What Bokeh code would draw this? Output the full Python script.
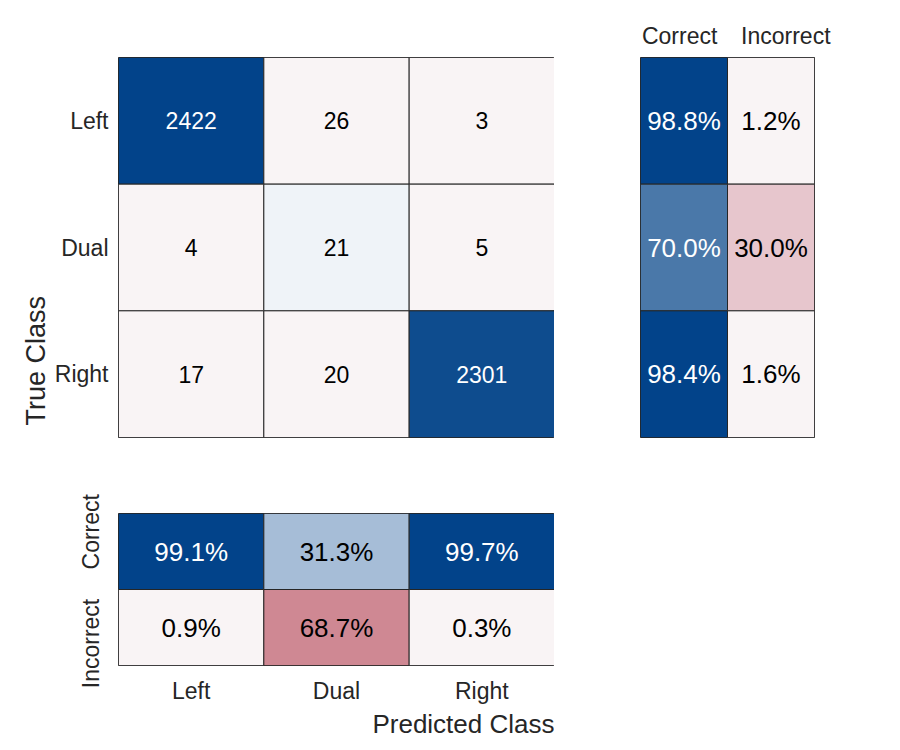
import math
from bokeh.plotting import figure
from bokeh.layouts import column, row
from bokeh.models import ColumnDataSource, FactorRange, Range1d, FixedTicker, Title
from bokeh.core.properties import value
from bokeh.embed import file_html
from bokeh.resources import INLINE

# ---------------- data ----------------
classes = ["Left", "Dual", "Right"]
counts = [[2422, 26, 3],
          [4, 21, 5],
          [17, 20, 2301]]
summary_labels = ["Correct", "Incorrect"]
row_correct = [98.8, 70.0, 98.4]
row_incorrect = [1.2, 30.0, 1.6]
col_correct = [99.1, 31.3, 99.7]
col_incorrect = [0.9, 68.7, 0.3]

# ---------------- styles ----------------
FONT = "Liberation Sans"
EDGE = "#262626"
TXT = "#262626"
LIGHT = "#F9F4F5"
main_fill = [["#02438A", LIGHT, LIGHT],
             [LIGHT, "#EFF3F8", LIGHT],
             [LIGHT, LIGHT, "#0E4C8E"]]
main_txt = [["white", "black", "black"],
            ["black", "black", "black"],
            ["black", "black", "white"]]
row_fill_c = ["#02438A", "#4A78A9", "#02438A"]
row_fill_i = [LIGHT, "#E7C6CD", LIGHT]
row_txt_c = ["white", "white", "white"]
row_txt_i = ["black", "black", "black"]
col_fill_c = ["#02438A", "#A6BDD7", "#02438A"]
col_fill_i = [LIGHT, "#CF8893", LIGHT]
col_txt_c = ["white", "black", "white"]
col_txt_i = ["black", "black", "black"]
# label anchor positions for the summary strips (fractions of the strip)
row_tick_pos = [0.45, 1.67]     # "Correct", "Incorrect" above the row summary
col_tick_pos = [1.76, 0.29]     # "Correct", "Incorrect" left of the column summary


def style_fig(p):
    p.grid.visible = False
    p.outline_line_color = EDGE
    p.outline_line_width = 1
    p.background_fill_color = "white"
    p.border_fill_color = "white"
    for ax in p.axis:
        ax.axis_line_color = None
        ax.major_tick_line_color = None
        ax.minor_tick_line_color = None
        ax.major_tick_out = 0
        ax.major_tick_in = 0
        ax.minor_tick_out = 0
        ax.minor_tick_in = 0
        ax.major_label_text_font = FONT
        ax.major_label_text_font_size = "23px"
        ax.major_label_text_color = TXT


def pct(v):
    return f"{v:.1f}%"


# ---------------- main matrix ----------------
mx, my, mv, mf, mt = [], [], [], [], []
for i, tc in enumerate(classes):
    for j, pc in enumerate(classes):
        mx.append(pc)
        my.append(tc)
        mv.append(str(counts[i][j]))
        mf.append(main_fill[i][j])
        mt.append(main_txt[i][j])
msrc = ColumnDataSource(dict(x=mx, y=my, v=mv, f=mf, t=mt))

pm = figure(x_range=FactorRange(*classes), y_range=FactorRange(*classes[::-1]),
            frame_width=436, frame_height=380, output_backend="svg",
            toolbar_location=None, min_border=0)
pm.min_border_left = 118
pm.min_border_top = 57
pm.min_border_bottom = 20
pm.min_border_right = 0
pm.rect("x", "y", width=1, height=1, source=msrc, fill_color="f",
        line_color=EDGE, line_width=1)
pm.text("x", "y", text="v", source=msrc, text_color="t",
        text_align="center", text_baseline="middle",
        text_font=value(FONT), text_font_size="23px")
pm.xaxis.visible = False
style_fig(pm)
pm.yaxis.major_label_standoff = 10
pm.add_layout(Title(text="True Class", align="left", offset=12, standoff=1,
                    text_font=FONT, text_font_size="27px",
                    text_font_style="normal", text_color=TXT), "left")

# ---------------- row summary ----------------
rx, ry, rv, rf, rt = [], [], [], [], []
for i, tc in enumerate(classes):
    rx += [0.5, 1.5]
    ry += [tc, tc]
    rv += [pct(row_correct[i]), pct(row_incorrect[i])]
    rf += [row_fill_c[i], row_fill_i[i]]
    rt += [row_txt_c[i], row_txt_i[i]]
rsrc = ColumnDataSource(dict(x=rx, y=ry, v=rv, f=rf, t=rt))

pr = figure(x_range=Range1d(0, len(summary_labels)), y_range=FactorRange(*classes[::-1]),
            frame_width=174, frame_height=380, output_backend="svg",
            toolbar_location=None, min_border=0, x_axis_location="above")
pr.min_border_left = 86
pr.min_border_top = 57
pr.min_border_bottom = 20
pr.min_border_right = 20
pr.rect("x", "y", width=1, height=1, source=rsrc, fill_color="f",
        line_color=EDGE, line_width=1)
pr.text("x", "y", text="v", source=rsrc, text_color="t",
        text_align="center", text_baseline="middle",
        text_font=value(FONT), text_font_size="26px")
pr.yaxis.visible = False
style_fig(pr)
pr.xaxis.ticker = FixedTicker(ticks=row_tick_pos)
pr.xaxis.major_label_overrides = {p: s for p, s in zip(row_tick_pos, summary_labels)}
pr.xaxis.major_label_standoff = 9

# ---------------- column summary ----------------
cx, cy, cv, cf, ct = [], [], [], [], []
for j, pc in enumerate(classes):
    cx += [pc, pc]
    cy += [1.5, 0.5]
    cv += [pct(col_correct[j]), pct(col_incorrect[j])]
    cf += [col_fill_c[j], col_fill_i[j]]
    ct += [col_txt_c[j], col_txt_i[j]]
csrc = ColumnDataSource(dict(x=cx, y=cy, v=cv, f=cf, t=ct))

pc_ = figure(x_range=FactorRange(*classes), y_range=Range1d(0, len(summary_labels)),
             frame_width=436, frame_height=152, output_backend="svg",
             toolbar_location=None, min_border=0)
pc_.min_border_left = 118
pc_.min_border_top = 56
pc_.min_border_bottom = 75
pc_.min_border_right = 0
pc_.rect("x", "y", width=1, height=1, source=csrc, fill_color="f",
         line_color=EDGE, line_width=1)
pc_.text("x", "y", text="v", source=csrc, text_color="t",
         text_align="center", text_baseline="middle",
         text_font=value(FONT), text_font_size="26px")
style_fig(pc_)
pc_.yaxis.ticker = FixedTicker(ticks=col_tick_pos)
pc_.yaxis.major_label_overrides = {p: s for p, s in zip(col_tick_pos, summary_labels)}
pc_.yaxis.major_label_orientation = "parallel"
pc_.yaxis.major_label_standoff = 14
pc_.xaxis.major_label_standoff = 12
pc_.add_layout(Title(text="Predicted Class", align="right", offset=0, standoff=0,
                     text_font=FONT, text_font_size="26px",
                     text_font_style="normal", text_color=TXT), "below")

layout = column(row(pm, pr), pc_)
open("out.html", "w").write(file_html(layout, INLINE))
